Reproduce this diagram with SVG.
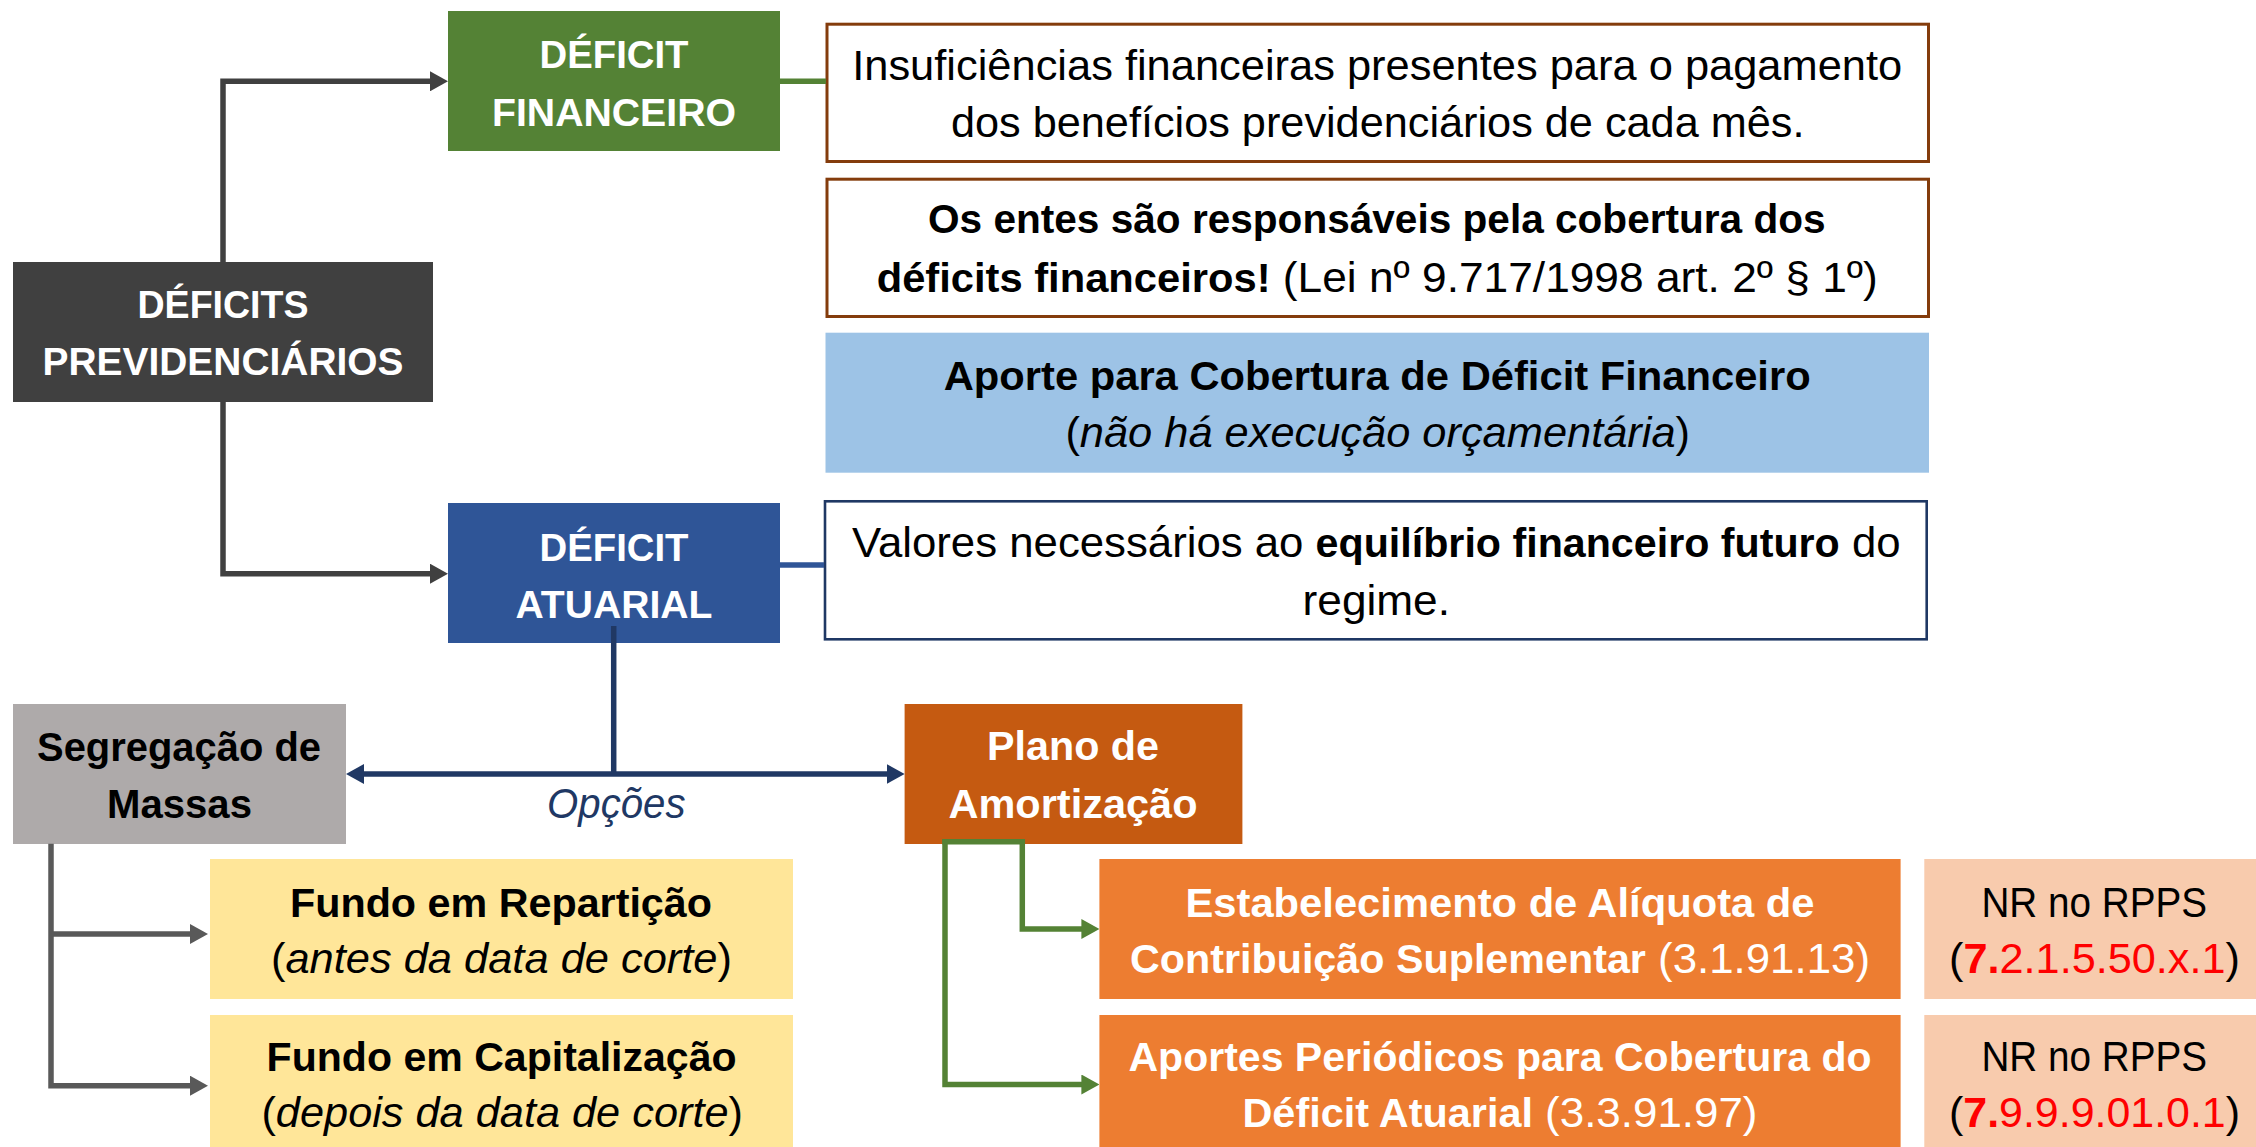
<svg xmlns="http://www.w3.org/2000/svg" width="2256" height="1147" viewBox="0 0 2256 1147">
<style>
text{font-family:"Liberation Sans",Arial,sans-serif;}
.t{font-size:39px;font-weight:bold;fill:#fff;text-anchor:middle;}
.b{font-size:40.5px;font-weight:bold;text-anchor:middle;}
.r{font-size:43px;text-anchor:middle;}
.bw{font-weight:bold;}
.it{font-style:italic;}
.wh{fill:#fff;}
.bk{fill:#000;}
.red{fill:#ff0000;}
.desc{fill:#fff;stroke:#843c0c;stroke-width:3;}
.line{fill:none;stroke-width:5.5;}
</style>
<defs>
<marker id="ag" markerUnits="userSpaceOnUse" markerWidth="18" markerHeight="20" refX="6" refY="10" orient="auto-start-reverse"><path d="M0,0 L18,10 L0,20 Z" fill="#404040"/></marker>
<marker id="ag2" markerUnits="userSpaceOnUse" markerWidth="18" markerHeight="20" refX="6" refY="10" orient="auto-start-reverse"><path d="M0,0 L18,10 L0,20 Z" fill="#595959"/></marker>
<marker id="an" markerUnits="userSpaceOnUse" markerWidth="18" markerHeight="20" refX="6" refY="10" orient="auto-start-reverse"><path d="M0,0 L18,10 L0,20 Z" fill="#203864"/></marker>
<marker id="agr" markerUnits="userSpaceOnUse" markerWidth="18" markerHeight="20" refX="6" refY="10" orient="auto-start-reverse"><path d="M0,0 L18,10 L0,20 Z" fill="#548235"/></marker>
</defs>
<rect width="2256" height="1147" fill="#fff"/>

<g id="n-deficits">
<rect x="13" y="262" width="420" height="140" fill="#404040"/>
<text class="t" x="223" y="318.3" textLength="171" lengthAdjust="spacingAndGlyphs">DÉFICITS</text>
<text class="t" x="223" y="375" textLength="361" lengthAdjust="spacingAndGlyphs">PREVIDENCIÁRIOS</text>
</g>

<g id="n-financeiro">
<rect x="448" y="11" width="332" height="140" fill="#548235"/>
<text class="t" x="614" y="68" textLength="149" lengthAdjust="spacingAndGlyphs">DÉFICIT</text>
<text class="t" x="614" y="126" textLength="244" lengthAdjust="spacingAndGlyphs">FINANCEIRO</text>
</g>

<g id="n-atuarial">
<rect x="448" y="503" width="332" height="140" fill="#2f5597"/>
<text class="t" x="614" y="561" textLength="149" lengthAdjust="spacingAndGlyphs">DÉFICIT</text>
<text class="t" x="614" y="617.7" textLength="197" lengthAdjust="spacingAndGlyphs">ATUARIAL</text>
</g>

<g id="n-desc-fin1">
<rect class="desc" x="827" y="24.2" width="1101.5" height="137.3"/>
<text class="r" x="1377.2" y="80" textLength="1050" lengthAdjust="spacingAndGlyphs">Insuficiências financeiras presentes para o pagamento</text>
<text class="r" x="1377.7" y="136.7" textLength="853.5" lengthAdjust="spacingAndGlyphs">dos benefícios previdenciários de cada mês.</text>
</g>

<g id="n-desc-fin2">
<rect class="desc" x="827" y="179.2" width="1101.5" height="137.3"/>
<text class="b" x="1376.8" y="233.3" textLength="897.5" lengthAdjust="spacingAndGlyphs">Os entes são responsáveis pela cobertura dos</text>
<text class="r" x="1377.2" y="291.7" textLength="1001" lengthAdjust="spacingAndGlyphs"><tspan class="bw" font-size="40.5">déficits financeiros!</tspan> (Lei nº 9.717/1998 art. 2º § 1º)</text>
</g>

<g id="n-aporte-fin">
<rect x="825.5" y="332.7" width="1103.5" height="140" fill="#9dc3e6"/>
<text class="b" x="1377.2" y="390" textLength="867" lengthAdjust="spacingAndGlyphs">Aporte para Cobertura de Déficit Financeiro</text>
<text class="r" x="1377.7" y="446.7" textLength="624.6" lengthAdjust="spacingAndGlyphs">(<tspan class="it">não há execução orçamentária</tspan>)</text>
</g>

<g id="n-desc-atu">
<rect x="825" y="501.3" width="1101.7" height="138" fill="#fff" stroke="#1f3864" stroke-width="2.6"/>
<text class="r" x="1376.3" y="557.3" textLength="1048.6" lengthAdjust="spacingAndGlyphs">Valores necessários ao <tspan class="bw" font-size="40.5">equilíbrio financeiro futuro</tspan> do</text>
<text class="r" x="1376.3" y="615" textLength="147.4" lengthAdjust="spacingAndGlyphs">regime.</text>
</g>

<g id="n-segregacao">
<rect x="13" y="704" width="333" height="140" fill="#aeaaaa"/>
<text class="b" x="179" y="760.7" textLength="284" lengthAdjust="spacingAndGlyphs">Segregação de</text>
<text class="b" x="179.5" y="818.3" textLength="145" lengthAdjust="spacingAndGlyphs">Massas</text>
</g>

<g id="n-reparticao">
<rect x="210" y="859" width="583" height="140" fill="#ffe699"/>
<text class="b" x="501" y="916.7" textLength="422" lengthAdjust="spacingAndGlyphs">Fundo em Repartição</text>
<text class="r" x="501.5" y="973.3" textLength="461" lengthAdjust="spacingAndGlyphs">(<tspan class="it">antes da data de corte</tspan>)</text>
</g>

<g id="n-capitalizacao">
<rect x="210" y="1015" width="583" height="140" fill="#ffe699"/>
<text class="b" x="501.6" y="1071" textLength="470" lengthAdjust="spacingAndGlyphs">Fundo em Capitalização</text>
<text class="r" x="502.2" y="1126.7" textLength="481.5" lengthAdjust="spacingAndGlyphs">(<tspan class="it">depois da data de corte</tspan>)</text>
</g>

<g id="n-plano">
<rect x="904.6" y="704" width="337.8" height="140" fill="#c55a11"/>
<text class="b wh" x="1073" y="760" textLength="172" lengthAdjust="spacingAndGlyphs">Plano de</text>
<text class="b wh" x="1073" y="818.3" textLength="249" lengthAdjust="spacingAndGlyphs">Amortização</text>
</g>

<g id="n-aliquota">
<rect x="1099.4" y="859" width="801.2" height="140" fill="#ed7d31"/>
<text class="b wh" x="1500" y="916.7" textLength="629" lengthAdjust="spacingAndGlyphs">Estabelecimento de Alíquota de</text>
<text class="r wh" x="1500" y="973.3" textLength="740" lengthAdjust="spacingAndGlyphs"><tspan class="bw" font-size="40.5">Contribuição Suplementar</tspan> (3.1.91.13)</text>
</g>

<g id="n-aportes">
<rect x="1099.4" y="1015" width="801.2" height="140" fill="#ed7d31"/>
<text class="b wh" x="1500" y="1071" textLength="743" lengthAdjust="spacingAndGlyphs">Aportes Periódicos para Cobertura do</text>
<text class="r wh" x="1500" y="1126.7" textLength="515" lengthAdjust="spacingAndGlyphs"><tspan class="bw" font-size="40.5">Déficit Atuarial</tspan> (3.3.91.97)</text>
</g>

<g id="n-nr1">
<rect x="1924.3" y="859" width="340" height="140" fill="#f8cbad"/>
<text class="r" x="2094.2" y="916.7" textLength="225.6" lengthAdjust="spacingAndGlyphs">NR no RPPS</text>
<text class="r" x="2094.5" y="973.3" textLength="291" lengthAdjust="spacingAndGlyphs">(<tspan class="red bw">7.</tspan><tspan class="red">2.1.5.50.x.1</tspan>)</text>
</g>

<g id="n-nr2">
<rect x="1924.3" y="1015" width="340" height="140" fill="#f8cbad"/>
<text class="r" x="2094.2" y="1071" textLength="225.6" lengthAdjust="spacingAndGlyphs">NR no RPPS</text>
<text class="r" x="2094.5" y="1126.7" textLength="291" lengthAdjust="spacingAndGlyphs">(<tspan class="red bw">7.</tspan><tspan class="red">9.9.9.01.0.1</tspan>)</text>
</g>

<g id="connectors">
<path class="line" stroke="#404040" d="M223 262 V81.3 H436" marker-end="url(#ag)"/>
<path class="line" stroke="#404040" d="M223 402 V573.7 H436" marker-end="url(#ag)"/>
<path class="line" stroke="#548235" stroke-width="5.5" d="M780 81.3 H826"/>
<path class="line" stroke="#2f5597" stroke-width="4.8" d="M780 565 H824"/>
<path class="line" stroke="#203864" stroke-width="6" d="M613.7 626 V774"/>
<path class="line" stroke="#203864" stroke-width="6" d="M358 774 H892.6" marker-start="url(#an)" marker-end="url(#an)"/>
<text class="r it" x="616.3" y="818.3" fill="#203864" textLength="138.4" lengthAdjust="spacingAndGlyphs">Opções</text>
<path class="line" stroke="#595959" d="M51 843.7 V1085.7 H196" marker-end="url(#ag2)"/>
<path class="line" stroke="#595959" d="M51 934 H196" marker-end="url(#ag2)"/>
<path class="line" stroke="#548235" d="M942.3 841.7 H1022.3 V929 H1087.4" marker-end="url(#agr)"/>
<path class="line" stroke="#548235" d="M945 839 V1084.5 H1087.4" marker-end="url(#agr)"/>
</g>
</svg>
